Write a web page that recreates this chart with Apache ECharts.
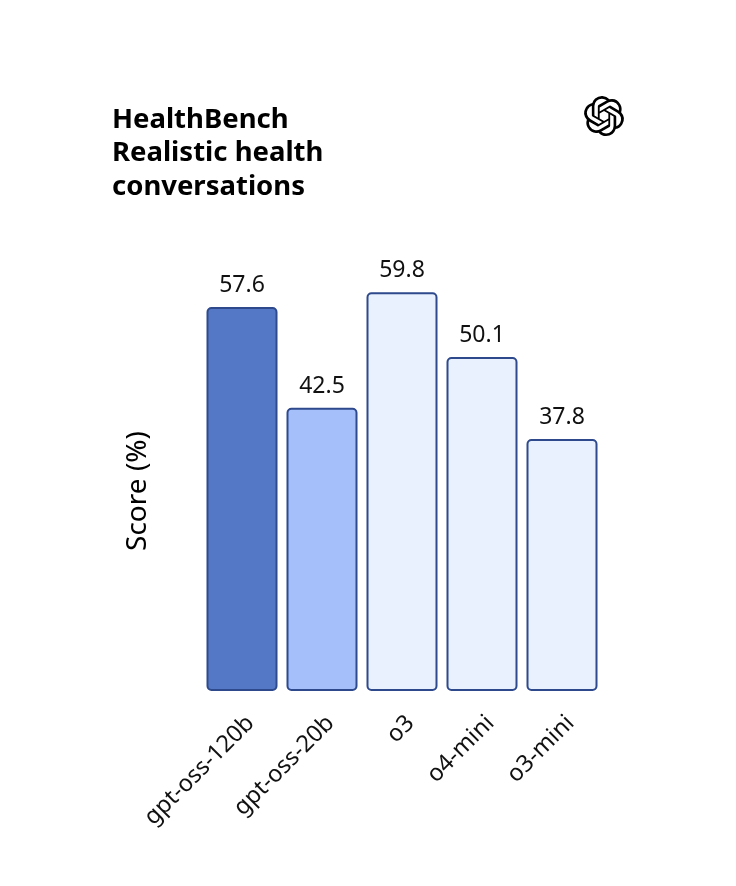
<!DOCTYPE html>
<html>
<head>
<meta charset="utf-8">
<script src="https://cdn.jsdelivr.net/npm/echarts@6/dist/echarts.min.js"></script>
<style>html,body{margin:0;padding:0;background:#fff;}#c{width:736px;height:886px;}</style>
</head>
<body>
<div id="c"></div>
<script>
const categories = ['gpt-oss-120b', 'gpt-oss-20b', 'o3', 'o4-mini', 'o3-mini'];
const scores = [57.6, 42.5, 59.8, 50.1, 37.8];
const barColors = ['#5478C5', '#A5BFFA', '#E9F0FE', '#E9F0FE', '#E9F0FE'];
const titleText = 'HealthBench\nRealistic health\nconversations';
const yName = 'Score (%)';

const logoPath = 'M22.2819 9.8211a5.9847 5.9847 0 0 0-.5157-4.9108 6.0462 6.0462 0 0 0-6.5098-2.9A6.0651 6.0651 0 0 0 4.9807 4.1818a5.9847 5.9847 0 0 0-3.9977 2.9 6.0462 6.0462 0 0 0 .7427 7.0966 5.98 5.98 0 0 0 .511 4.9107 6.051 6.051 0 0 0 6.5146 2.9001A5.9847 5.9847 0 0 0 13.2599 24a6.0557 6.0557 0 0 0 5.7718-4.2058 5.9894 5.9894 0 0 0 3.9977-2.9001 6.0557 6.0557 0 0 0-.7475-7.0729zm-9.022 12.6081a4.4755 4.4755 0 0 1-2.8764-1.0408l.1419-.0804 4.7783-2.7582a.7948.7948 0 0 0 .3927-.6813v-6.7369l2.02 1.1686a.071.071 0 0 1 .038.052v5.5826a4.504 4.504 0 0 1-4.4945 4.4944zm-9.6607-4.1254a4.4708 4.4708 0 0 1-.5346-3.0137l.142.0852 4.783 2.7582a.7712.7712 0 0 0 .7806 0l5.8428-3.3685v2.3324a.0804.0804 0 0 1-.0332.0615L9.74 19.9502a4.4992 4.4992 0 0 1-6.1408-1.6464zM2.3408 7.8956a4.485 4.485 0 0 1 2.3655-1.9728V11.6a.7664.7664 0 0 0 .3879.6765l5.8144 3.3543-2.0201 1.1685a.0757.0757 0 0 1-.071 0l-4.8303-2.7865A4.504 4.504 0 0 1 2.3408 7.872zm16.5963 3.8558L13.1038 8.364 15.1192 7.2a.0757.0757 0 0 1 .071 0l4.8303 2.7913a4.4944 4.4944 0 0 1-.6765 8.1042v-5.6772a.79.79 0 0 0-.407-.667zm2.0107-3.0231l-.142-.0852-4.7735-2.7818a.7759.7759 0 0 0-.7854 0L9.409 9.2297V6.8974a.0662.0662 0 0 1 .0284-.0615l4.8303-2.7866a4.4992 4.4992 0 0 1 6.6802 4.66zM8.3065 12.863l-2.02-1.1638a.0804.0804 0 0 1-.038-.0567V6.0742a4.4992 4.4992 0 0 1 7.3757-3.4537l-.142.0805L8.704 5.459a.7948.7948 0 0 0-.3927.6813zm1.0976-2.3654l2.602-1.4998 2.6069 1.4998v2.9994l-2.5974 1.4997-2.6067-1.4997Z';

const FONT = '"Noto Sans", sans-serif';
const chart = echarts.init(document.getElementById('c'), null, {renderer: 'canvas'});
chart.setOption({
  backgroundColor: '#ffffff',
  animation: false,
  title: {
    text: titleText,
    left: 107,
    top: 98,
    textStyle: {fontFamily: FONT, fontSize: 27.5, fontWeight: 'bold', color: '#000', lineHeight: 33.5}
  },
  grid: {left: 202, right: 134, top: 291, bottom: 195, containLabel: false},
  xAxis: {
    type: 'category',
    data: categories,
    axisLine: {show: false},
    axisTick: {show: false},
    axisLabel: {rotate: 45, margin: 20, verticalAlign: 'top', fontFamily: FONT, fontSize: 23.5, color: '#111', interval: 0}
  },
  yAxis: {
    type: 'value',
    min: 0, max: 60,
    name: yName,
    nameLocation: 'middle',
    nameGap: 50,
    nameRotate: 90,
    nameTextStyle: {fontFamily: FONT, fontSize: 28, color: '#000'},
    axisLine: {show: false},
    axisTick: {show: false},
    axisLabel: {show: false},
    splitLine: {show: false}
  },
  series: [{
    type: 'bar',
    data: scores.map((v, i) => ({value: v, itemStyle: {color: barColors[i]}})),
    barWidth: 71,
    itemStyle: {borderColor: '#2E4A8C', borderWidth: 2, borderRadius: 4},
    label: {show: true, position: 'top', distance: 10, fontFamily: FONT, fontSize: 23, color: '#111'}
  }, {
    type: 'custom',
    coordinateSystem: 'none',
    silent: true,
    data: [0],
    renderItem: function () {
      return {
        type: 'path',
        shape: {pathData: logoPath, x: 584, y: 96, width: 40, height: 40},
        style: {fill: '#000'}
      };
    }
  }]
});
</script>
</body>
</html>
